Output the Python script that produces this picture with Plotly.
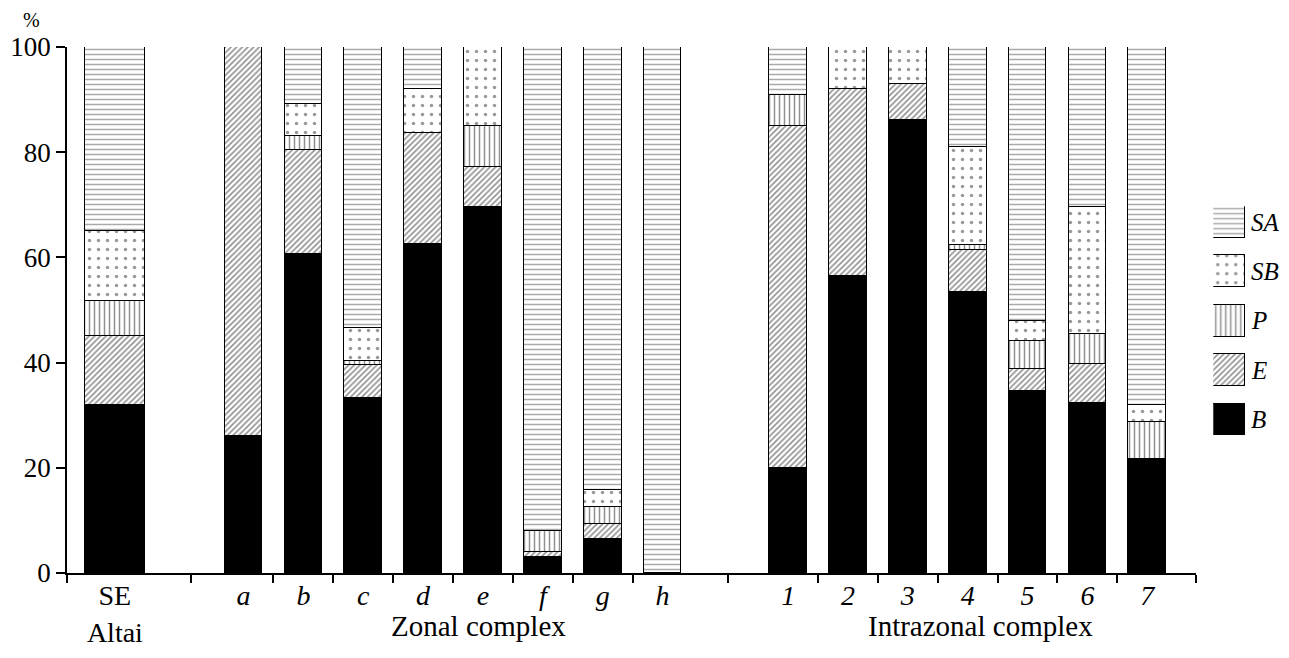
import plotly.graph_objects as go

# ---------------- data (percent of each component) ----------------
categories = ["SE<br>Altai", "a", "b", "c", "d", "e", "f", "g", "h",
              "1", "2", "3", "4", "5", "6", "7"]
italic_cat = [False] + [True] * 15
B  = [31.9, 26.0, 60.6, 33.3, 62.6, 69.5, 3.1, 6.5, 0.0, 20.0, 56.5, 86.1, 53.4, 34.6, 32.4, 21.6]
E  = [13.2, 74.0, 19.9,  6.3, 21.0,  7.7, 0.9, 2.9, 0.0, 64.9, 35.6,  6.9,  8.1,  4.2,  7.4,  0.0]
P  = [ 6.7,  0.0,  2.5,  0.8,  0.0,  7.8, 4.0, 3.1, 0.0,  5.9,  0.0,  0.0,  0.8,  5.3,  5.6,  7.2]
SB = [13.3,  0.0,  6.2,  6.1,  8.5, 15.0, 0.0, 3.3, 0.0,  0.0,  7.9,  7.0, 18.7,  3.8, 24.2,  3.2]
SA = [34.9,  0.0, 10.8, 53.5,  7.9,  0.0, 92.0, 84.2, 100.0, 9.2, 0.0, 0.0, 19.0, 52.1, 30.4, 68.0]
series_names = ["B", "E", "P", "SB", "SA"]
y_ticks = [0, 20, 40, 60, 80, 100]
group_labels = ["Zonal complex", "Intrazonal complex"]

# ---------------- layout of positions ----------------
n_zonal, n_intra = 8, 7
se_pos = 0.80
zonal_start = 2.95
intra_start = 12.05
positions = [se_pos] + [zonal_start + i for i in range(n_zonal)] + [intra_start + i for i in range(n_intra)]
widths = [1.0] + [0.63] * (n_zonal + n_intra)
x_end = 18.87

zonal_pos = positions[1:1 + n_zonal]
intra_pos = positions[1 + n_zonal:]
minor_ticks = ([0.0, 2.08]
               + [(zonal_pos[i] + zonal_pos[i + 1]) / 2 for i in range(n_zonal - 1)]
               + [11.05]
               + [(intra_pos[i] + intra_pos[i + 1]) / 2 for i in range(n_intra - 1)]
               + [x_end])

styles = {
    "B":  dict(color="black", pattern=None),
    "E":  dict(color="white", pattern=dict(shape="/", fgcolor="#222", bgcolor="white", size=4, solidity=0.4)),
    "P":  dict(color="white", pattern=dict(shape="|", fgcolor="#222", bgcolor="white", size=5, solidity=0.3)),
    "SB": dict(color="white", pattern=dict(shape=".", fgcolor="#333", bgcolor="white", size=9, solidity=0.12)),
    "SA": dict(color="white", pattern=dict(shape="-", fgcolor="#555", bgcolor="white", size=5, solidity=0.3)),
}
values = {"B": B, "E": E, "P": P, "SB": SB, "SA": SA}

# page is drawn with an 8px body margin: shrink the figure and work in reference pixels
OFF = 8
W, H = 1289 - 2 * OFF, 658 - 2 * OFF
PL, PR, PT, PB = 62, 1279, 47, 579          # plot area in reference pixels
ml, mr, mt, mb = PL - OFF, (W + OFF) - PR, PT - OFF, (H + OFF) - PB
pw, ph = PR - PL, PB - PT


def px_x(px):
    return (px - PL) / pw


def px_y(py):
    return (PB - py) / ph


fig = go.Figure()
for name in series_names:
    st = styles[name]
    marker = dict(color=st["color"], line=dict(color="black", width=1.5))
    if st["pattern"]:
        marker["pattern"] = st["pattern"]
    fig.add_trace(go.Bar(x=positions, y=values[name], width=widths, name=name,
                         marker=marker, showlegend=False, xaxis="x", yaxis="y"))

# legend boxes drawn as bars on a separate small axis
leg_step, leg_box = 50, 32
for k, name in enumerate(series_names):
    st = styles[name]
    marker = dict(color=st["color"], line=dict(color="black", width=1.5))
    if st["pattern"]:
        marker["pattern"] = st["pattern"]
    fig.add_trace(go.Bar(x=[0], y=[leg_box], base=[k * leg_step], width=[1.0],
                         marker=marker, showlegend=False, xaxis="x2", yaxis="y2",
                         hoverinfo="skip"))
    fig.add_annotation(x=px_x(1249), xref="paper", y=k * leg_step + leg_box / 2, yref="y2",
                       text="<i>%s</i>" % name, showarrow=False, xanchor="left", yanchor="middle",
                       font=dict(family="Liberation Serif", size=25, color="black"))

ticktext = ["<i>%s</i>" % c if it else c for c, it in zip(categories, italic_cat)]

font = dict(family="Liberation Serif", size=27, color="black")
xfont = dict(family="Liberation Serif", size=28, color="black")

fig.update_layout(
    width=W, height=H,
    margin=dict(l=ml, r=mr, t=mt, b=mb, pad=0),
    paper_bgcolor="white", plot_bgcolor="white",
    barmode="stack", bargap=0,
    font=font,
    xaxis=dict(domain=[0, px_x(1196)], range=[0, x_end], showline=True, linecolor="black",
               linewidth=1.5, tickmode="array", tickvals=positions, ticktext=ticktext,
               ticks="", showgrid=False, zeroline=False, tickfont=xfont, ticklabelstandoff=-3,
               minor=dict(tickmode="array", tickvals=minor_ticks, ticks="outside",
                          ticklen=8, tickwidth=1.5, tickcolor="black", showgrid=False)),
    yaxis=dict(range=[0, 100], tickvals=y_ticks, showline=True, linecolor="black",
               linewidth=1.5, ticks="outside", ticklen=9, tickwidth=1.5, tickcolor="black",
               showgrid=False, zeroline=False, tickfont=font),
    xaxis2=dict(domain=[px_x(1213), px_x(1245)], range=[-0.5, 0.5],
                visible=False, anchor="y2", fixedrange=True),
    yaxis2=dict(domain=[px_y(440), px_y(208)],
                range=[0, (len(series_names) - 1) * leg_step + leg_box],
                visible=False, anchor="x2", fixedrange=True),
)

gfont = dict(family="Liberation Serif", size=29, color="black")
fig.add_annotation(x=px_x(475), xref="paper", y=px_y(633), yref="paper", yanchor="middle",
                   xanchor="center", text=group_labels[0], showarrow=False, font=gfont)
fig.add_annotation(x=px_x(979), xref="paper", y=px_y(633), yref="paper", yanchor="middle",
                   xanchor="center", text=group_labels[1], showarrow=False, font=gfont)
fig.add_annotation(x=px_x(26), xref="paper", y=px_y(20), yref="paper", yanchor="middle",
                   xanchor="center", text="%", showarrow=False, borderpad=0,
                   font=dict(family="Liberation Serif", size=20, color="black"))

fig.write_html("out.html")
